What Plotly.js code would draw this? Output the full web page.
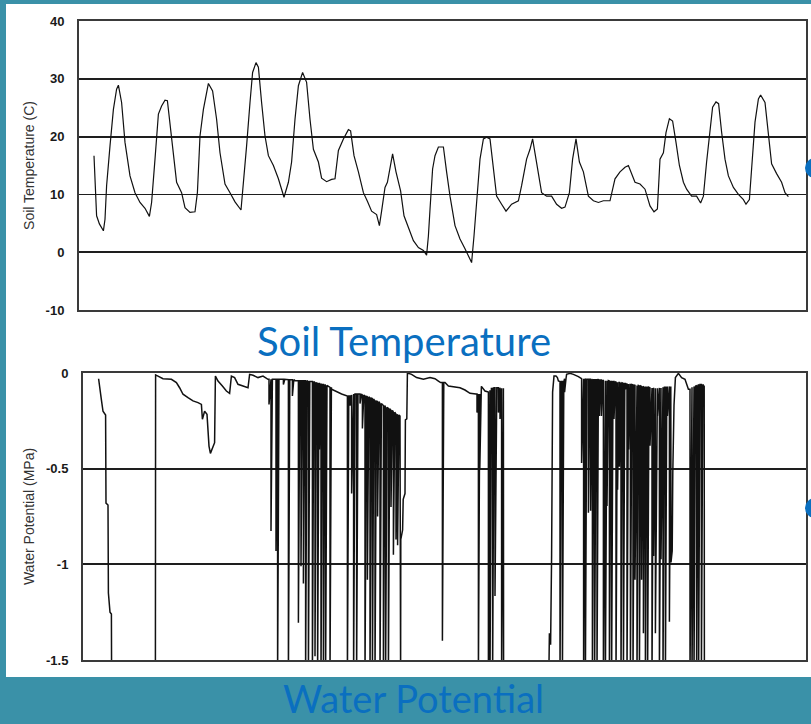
<!DOCTYPE html>
<html>
<head>
<meta charset="utf-8">
<script src="https://cdn.plot.ly/plotly-3.0.1.min.js"></script>
<style>html,body{margin:0;padding:0;background:#3a91a8;}#chart{width:811px;height:724px;}</style>
</head>
<body>
<div id="chart"></div>
<script>
// ---------- Soil temperature (hours, deg C) ----------
const tempHours = [7.5,8,8.8,10.2,12.2,13,13.8,15.5,17.2,18.8,19.7,21.3,23,25.5,28,30.5,33,35.2,36.3,38,39.7,41.3,43,44.2,45.5,47.2,48.8,51.3,53,55.5,58,59.2,60.5,62.2,64.7,66.8,68.8,70.5,73,75.5,78,81,82.2,83.8,85.5,86.8,88.5,89.7,91.3,93,94.7,97.2,99.7,101.3,102.5,104.7,106.3,108,109.7,111.8,113.8,115.5,117.2,119.7,121.3,123.8,126.3,128,129.7,132.2,134.7,135.8,137.5,139.7,142.2,144.2,146.3,148.8,150.2,151.3,153,154.2,155.5,156.8,158.5,160.8,162.5,165.2,167.2,169.7,172.2,173.8,174.7,175.5,176.8,178,179.7,180.5,182.2,183.8,185.5,188,190.5,193,195.5,196.3,197.5,198.8,200.5,202.2,203.8,205.5,207.2,208.8,211.3,213.5,216.3,219.7,221.3,223.8,225.5,226.8,228.5,231.3,233.8,236.3,238.8,241.3,243,245.2,246.8,248.5,250.2,252.2,254.7,257.2,259.7,262.2,265.5,268,270.5,273,274.7,276.3,278,280.5,283,285.5,287.5,289.2,290.5,292.2,293.5,295.2,296.8,298.5,300.2,302.2,303.8,306.3,308.8,310.8,312.2,313.8,315.5,316.8,318.5,319.8,321.3,323,324.7,327.2,329.7,332.2,333.5,335.2,336.3,338,339.7,340.8,343,344.7,346.3,348.8,351.3,353,354.7];
const tempC = [16.7,13.2,6.3,4.9,3.7,5.7,11.5,18.4,24.7,28.2,28.9,25.9,19,13.2,10.3,8.6,7.6,6.2,8.6,16.1,23.9,25.3,26.3,26.2,21.9,17.2,12.1,10.3,7.7,6.9,7.0,10.3,20.1,24.7,29.2,27.9,23,17.2,11.8,10.3,8.7,7.3,11.5,18.4,25.9,31.1,32.8,32,25.9,20.1,16.7,15,12.7,10.6,9.5,12.1,15.6,23,28.8,31.1,29.4,23,17.8,15.6,12.8,12.2,12.6,12.7,17.6,19.6,21.2,21,16.7,13.9,10.3,8.8,7.1,6.5,4.6,7.1,11.2,12.1,14.4,17,13.9,10.6,6.3,4,2,0.8,0.3,-0.5,2.8,7.4,14.4,16.7,18.2,18.2,18.2,13.9,9.7,4.6,2.3,0.6,-1.2,-1.8,2.8,9.1,16.1,19.6,19.9,19.6,13.9,9.7,8.3,7.1,8.3,8.9,11.5,16.1,17.8,19.6,16.1,10.3,9.7,9.7,8.3,7.6,7.8,10.3,16.1,19.6,15.6,13.9,9.7,8.9,8.6,8.9,8.9,12.7,13.9,14.7,15,13.6,12.1,11.8,10.9,8,7,7.5,16.1,17.2,20.7,23.1,22.7,19,15,12.1,10.9,9.7,9.7,8.5,9.7,15.6,21.3,25.1,26,25.7,20.8,16.1,13.2,11.2,10,9.1,8.3,9.1,14.4,22.5,26.5,27.2,25.9,20.8,15.3,13.6,12.1,10.3,9.6];
const tempTickVals = [-10,0,10,20,30,40];
const tempTickText = ["-10","0","10","20","30","40"];

// ---------- Water potential (hours, MPa); -1.6 = below the -1.5 floor ----------
const wpBaseHours = [7.8,8.3,9.2,10,11.3,11.5,12.5,12.7,13.5,14.2,14.3,36.2,36.3,
  37.5,40,44.2,46.7,48.3,50,52.5,55,57.5,59.2,59.7,60.8,62,62.5,63,63.7,65,65.8,66.2,67.5,69.7,71.7,73.3,74.2,75.8,77.5,80,82.5,83.3,85,87.5,90,92.5,
  99,106,124.3,129.3,131.5,137.8,145.5,153.5,158,
  158.5,158.6,158.8,158.9,159.8,160.1,161,161.2,161.9,162.2,
  162.7,164.3,166.8,170.2,173.5,176,177.7,178.8,181,182.7,186,188.5,191,193.5,196.5,199.2,201,202.2,204.2,206.9,210.2,210.3,
  232.9,233.2,233.8,234.3,234.8,235.5,236.5,237.2,237.7,
  241.8,243.5,245.2,247.7,248.8,251.9,
  294.0,294.6,294.9,295.5,296.2,297.7,299.3,301,302.7,
  310.6,310.7];
const wpBaseMPa = [-0.03,-0.08,-0.14,-0.2,-0.22,-0.68,-0.69,-1.15,-1.25,-1.26,-1.6,-1.6,-0.01,
  -0.016,-0.03,-0.033,-0.05,-0.077,-0.111,-0.129,-0.146,-0.155,-0.164,-0.242,-0.2,-0.216,-0.294,-0.382,-0.42,-0.382,-0.364,-0.016,-0.042,-0.068,-0.094,-0.106,-0.016,-0.024,-0.059,-0.068,-0.077,-0.007,-0.012,-0.024,-0.016,-0.033,
  -0.033,-0.04,-0.085,-0.11,-0.12,-0.11,-0.14,-0.19,-0.22,
  -0.225,-1.6,-1.6,-0.87,-0.82,-0.66,-0.63,-0.245,-0.24,-0.002,
  -0.002,-0.007,-0.024,-0.033,-0.024,-0.03,-0.042,-0.05,-0.05,-0.068,-0.071,-0.077,-0.089,-0.106,-0.11,-0.07,-0.094,-0.1,-0.077,-0.077,-0.08,-1.6,
  -1.6,-1.36,-1.42,-0.955,-0.1,-0.016,-0.016,-0.024,-0.042,
  -0.007,-0.002,-0.007,-0.019,-0.03,-0.033,
  -0.99,-0.93,-0.52,-0.17,-0.024,-0.002,-0.024,-0.033,-0.085,
  -0.07,-1.6];
// drying spikes: time, level before the drop, lowest reading
const spikeHours = [93,94,96.5,97.3,100.2,102.7,104.7,107.7,109,110.2,111.3,112.7,114.7,116,117.3,118.2,119,120.2,121.3,123.5,
  132.2,133.5,134.3,135.3,136.8,138.5,139.7,141,142.2,143.5,144.7,146,147.3,148.5,150.2,151.3,152.7,154,155.2,156.5,157.3,
  179.7,197,197.7,198.4,202.7,203.5,204.8,206,207.7,208.5,209.3,
  238.5,239.7,240.8,249.3,250.3,251.2,252.7,253.8,254.7,255.8,257,258.2,259.2,260.2,261.2,262,263.2,264.3,265.5,266.5,267.3,268.2,269,270.2,271.2,272,272.8,273.7,275,276,277,278.2,279.3,280.2,281.2,282.3,283.5,284.5,285.3,286.2,287.2,288.2,289,290,291.2,292.2,293.2,
  303.5,304.5,305.5,306.8,307.8,309.2];
const spikeTop = [-0.033,-0.033,-0.033,-0.033,-0.033,-0.035,-0.035,-0.04,-0.04,-0.04,-0.04,-0.045,-0.045,-0.05,-0.055,-0.055,-0.06,-0.06,-0.065,-0.075,
  -0.12,-0.12,-0.115,-0.11,-0.11,-0.11,-0.115,-0.12,-0.125,-0.13,-0.135,-0.145,-0.15,-0.16,-0.17,-0.18,-0.185,-0.195,-0.205,-0.215,-0.22,
  -0.05,-0.11,-0.11,-0.11,-0.1,-0.09,-0.077,-0.077,-0.077,-0.08,-0.08,
  -0.045,-0.045,-0.03,-0.03,-0.03,-0.033,-0.033,-0.033,-0.035,-0.035,-0.035,-0.037,-0.037,-0.04,-0.04,-0.04,-0.042,-0.045,-0.045,-0.048,-0.05,-0.05,-0.052,-0.055,-0.055,-0.058,-0.06,-0.06,-0.062,-0.065,-0.065,-0.068,-0.07,-0.072,-0.075,-0.075,-0.078,-0.078,-0.08,-0.08,-0.08,-0.078,-0.078,-0.075,-0.075,-0.072,-0.07,
  -0.085,-0.075,-0.07,-0.065,-0.06,-0.06];
const spikeLow = [-0.164,-0.826,-0.93,-1.6,-0.06,-1.6,-0.12,-1.305,-1.01,-1.1,-1.6,-1.6,-1.6,-1.48,-1.6,-0.4,-1.6,-1.6,-1.6,-1.6,
  -1.6,-0.17,-0.63,-1.6,-1.6,-0.16,-0.29,-1.6,-1.08,-1.6,-1.6,-1.6,-0.75,-1.6,-1.6,-1.6,-1.6,-0.7,-0.95,-0.87,-0.9,
  -1.4,-0.207,-1.6,-0.5,-1.6,-1.6,-1.6,-1.165,-0.207,-0.24,-1.6,
  -1.6,-1.6,-0.1,-0.47,-1.6,-1.6,-0.73,-0.72,-1.6,-1.6,-1.6,-0.225,-0.225,-1.6,-1.6,-0.695,-1.6,-1.6,-0.24,-1.6,-0.61,-0.49,-1.6,-1.6,-0.085,-1.6,-0.4,-1.6,-1.6,-1.08,-1.6,-1.6,-1.08,-1.36,-1.6,-1.6,-0.38,-1.6,-0.956,-1.36,-0.225,-1.6,-0.974,-1.6,-1.6,-0.225,-1.3,
  -1.6,-1.6,-1.6,-1.6,-1.6,-1.6];
const wpTickVals = [-1.5,-1,-0.5,0];
const wpTickText = ["-1.5","-1","-0.5","0"];

// assemble the water-potential trace in time order
const pts = [];
wpBaseHours.forEach((t, i) => pts.push([t, wpBaseMPa[i]]));
spikeHours.forEach((t, i) => {
  pts.push([t, spikeTop[i]]);
  pts.push([t, spikeLow[i]]);
  pts.push([t + 0.7, spikeTop[i]]);
});
pts.sort((a, b) => a[0] - b[0]);
const wpX = pts.map(p => p[0]);
const wpY = pts.map(p => p[1]);

const W = 811, H = 724;
const px = x => x / W;
const py = y => 1 - y / H;

const tickFont = {family: 'Liberation Sans, Arial, sans-serif', size: 13, color: '#1a1a1a', weight: 'bold'};
const titleFont = {family: 'Liberation Sans, Arial, sans-serif', size: 14, color: '#333333'};
const blue = '#0a6fc0';

const traces = [
  {x: tempHours, y: tempC, type: 'scatter', mode: 'lines', xaxis: 'x', yaxis: 'y',
   line: {color: '#111111', width: 1.2}, hoverinfo: 'skip'},
  {x: wpX, y: wpY, type: 'scatter', mode: 'lines', xaxis: 'x2', yaxis: 'y2',
   line: {color: '#111111', width: 1.5}, hoverinfo: 'skip'}
];

const axisCommon = {zeroline: false, showline: true, mirror: true, linecolor: '#3a3a3a', linewidth: 2, ticks: '', fixedrange: true, automargin: false};

const layout = {
  width: W, height: H,
  margin: {l: 0, r: 0, t: 0, b: 0},
  paper_bgcolor: '#3a91a8',
  plot_bgcolor: '#ffffff',
  showlegend: false,
  xaxis: Object.assign({}, axisCommon, {domain: [px(79), px(806)], range: [0, 363.5], showticklabels: false, showgrid: false, anchor: 'y'}),
  yaxis: Object.assign({}, axisCommon, {domain: [py(310), py(21)], range: [-10, 40], anchor: 'x',
    tickvals: tempTickVals, ticktext: tempTickText, showgrid: true, gridcolor: '#1e1e1e', gridwidth: 1.8,
    tickfont: tickFont, ticklabelstandoff: 10,
    title: {text: 'Soil Temperature (C)', font: titleFont, standoff: 8}}),
  xaxis2: Object.assign({}, axisCommon, {domain: [px(83), px(806)], range: [0, 361.5], showticklabels: false, showgrid: false, anchor: 'y2'}),
  yaxis2: Object.assign({}, axisCommon, {domain: [py(660), py(373)], range: [-1.5, 0], anchor: 'x2',
    tickvals: wpTickVals, ticktext: wpTickText, showgrid: true, gridcolor: '#1e1e1e', gridwidth: 1.8,
    tickfont: tickFont, ticklabelstandoff: 10,
    title: {text: 'Water Potential (MPa)', font: titleFont, standoff: 8}}),
  shapes: [
    {type: 'rect', xref: 'paper', yref: 'paper', x0: px(6), x1: 1.02, y0: py(677), y1: py(4),
     fillcolor: '#ffffff', line: {width: 0}, layer: 'below'},
    {type: 'circle', xref: 'paper', yref: 'paper', x0: px(805), x1: px(825), y0: py(178), y1: py(158),
     fillcolor: blue, line: {width: 0}, layer: 'above'},
    {type: 'circle', xref: 'paper', yref: 'paper', x0: px(805), x1: px(825), y0: py(518), y1: py(498),
     fillcolor: blue, line: {width: 0}, layer: 'above'}
  ],
  annotations: [
    {text: 'Soil Temperature', xref: 'paper', yref: 'paper', x: px(404), y: py(341), xanchor: 'center', yanchor: 'middle',
     showarrow: false, font: {family: 'Lato, Open Sans, sans-serif', size: 40, color: blue}},
    {text: 'Water Potential', xref: 'paper', yref: 'paper', x: px(413), y: py(698), xanchor: 'center', yanchor: 'middle',
     showarrow: false, font: {family: 'Lato, Open Sans, sans-serif', size: 38, color: blue}}
  ]
};

Plotly.newPlot('chart', traces, layout, {displayModeBar: false, staticPlot: true});
</script>
</body>
</html>
